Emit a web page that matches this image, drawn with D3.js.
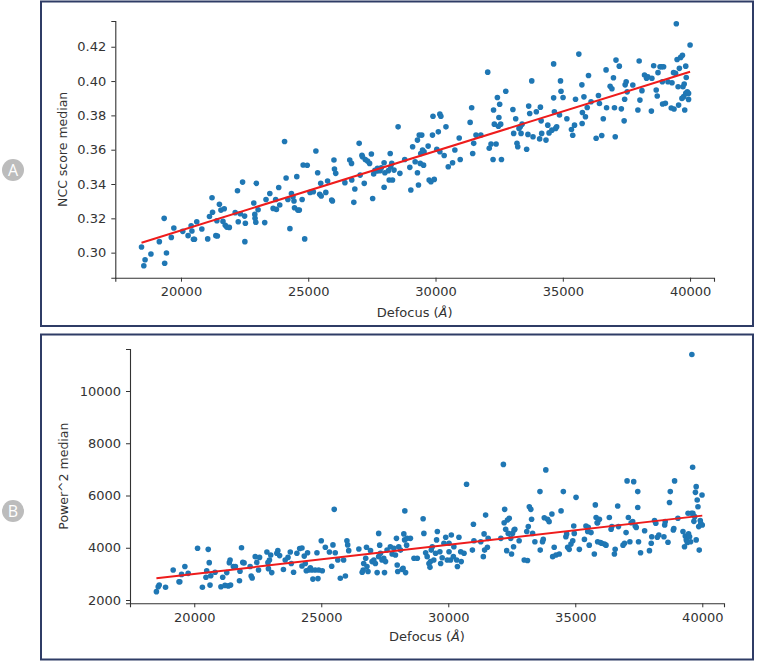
<!DOCTYPE html>
<html>
<head>
<meta charset="utf-8">
<script src="https://cdn.jsdelivr.net/npm/d3@7"></script>
<style>
  html, body { margin: 0; padding: 0; background: #fff; }
  svg { display: block; font-family: "DejaVu Sans", sans-serif; }
</style>
</head>
<body>
<svg id="chart" width="758" height="661"></svg>
<script>
// ---------- Data ----------
const xTicks = [20000, 25000, 30000, 35000, 40000];
const yTicksA = [0.30, 0.32, 0.34, 0.36, 0.38, 0.40, 0.42];
const yTicksB = [2000, 4000, 6000, 8000, 10000];

const defocusA = [
18450,18540,18590,18820,19150,19340,19360,19430,19620,19720,
20070,20280,20400,20430,20490,20530,20620,20820,21050,21120,
21220,21240,21370,21410,21430,21510,21570,21650,21700,21740,
21800,21900,22130,22220,22250,22330,22420,22500,22530,22510,
22860,22900,22910,22940,22960,23030,23290,23340,23490,23620,
23720,23750,23840,23880,24070,24130,24200,24280,24340,24400,
24440,24460,24550,24590,24650,24760,24800,24860,24960,25070,
25200,25300,25370,25450,25490,25510,25690,25760,25920,25950,
26010,26030,26080,26440,26630,26700,26710,26790,26830,27000,
27040,27110,27130,27200,27240,27330,27410,27480,27530,27570,27620,27700,
27720,27820,27870,27980,28010,27980,28150,28180,28220,28240,
28280,28310,28370,28530,28600,28790,28990,29030,29100,29200,
29290,29290,29330,29360,29400,29420,29460,29490,29530,29550,
29710,29750,29820,29880,29900,29950,30050,30110,30170,30210,
30170,30340,30410,30500,30670,30760,30930,30970,31360,31420,
31460,31500,31590,31780,32050,32110,32180,32260,32280,32310,
32380,32430,32470,32490,32520,32590,32560,32760,33040,33070,
33150,33200,33230,33280,33330,33360,33400,33580,33630,33660,
33700,33780,33830,33960,34090,34120,34150,34170,34340,34410,
34460,34570,34640,34670,34640,34720,34760,34870,34910,34930,
35010,35160,35340,35390,35460,35500,35630,35760,35750,35770,
35830,35890,35960,36010,36110,36310,36400,36440,36530,36590,
36700,36720,36860,36930,36990,37030,37060,37090,37220,37300,
37410,37430,37450,37490,37530,37750,37950,38000,38030,38110,
38210,38290,38340,38480,38500,38570,38670,38710,38740,38820,
38880,38920,38960,38910,39030,39130,39260,39290,39350,39370,
39430,39460,39490,39530,39550,39580,39630,39680,39700,39720,
39750,39770,39790,39830,39830,39850,39890,39940,39940,40000
];
const nccMedian = [
.3033,.2924,.2959,.2992,.3064,.3200,.2938,.2998,.3089,.3144,
.3124,.3099,.3157,.3126,.3078,.3078,.3180,.3138,.3080,.3211,
.3320,.3235,.3099,.3186,.3097,.3282,.3248,.3182,.3256,.3159,
.3149,.3147,.3233,.3361,.3180,.3227,.3411,.3213,.3171,.3064,
.3289,.3223,.3200,.3177,.3404,.3250,.3175,.3310,.3345,.3258,
.3310,.3252,.3380,.3278,.3648,.3435,.3310,.3140,.3345,.3326,
.3301,.3262,.3443,.3248,.3248,.3310,.3511,.3080,.3509,.3351,
.3355,.3592,.3466,.3340,.3404,.3330,.3351,.3417,.3307,.3301,
.3540,.3487,.3462,.3408,.3540,.3520,.3423,.3293,.3371,.3637,
.3452,.3567,.3559,.3404,.3543,.3534,.3520,.3575,.3316,.3458,.3480,.3476,
.3491,.3478,.3495,.3524,.3466,.3381,.3478,.3423,.3578,.3501,
.3520,.3423,.3481,.3733,.3462,.3543,.3497,.3365,.3617,.3530,
.3656,.3466,.3394,.3685,.3520,.3578,.3685,.3598,.3510,.3588,
.3621,.3423,.3413,.3685,.3795,.3427,.3603,.3704,.3807,.3795,
.3588,.3566,.3733,.3501,.3524,.3598,.3668,.3543,.3759,.3844,
.3578,.3637,.3685,.3685,.4052,.3608,.3633,.3543,.3831,.3749,
.3633,.3904,.3737,.3788,.3865,.3543,.3749,.3941,.3834,.3695,
.3780,.3637,.3617,.3724,.3733,.3695,.3749,.3603,.3689,.3854,
.3811,.4001,.3675,.3821,.3663,.3848,.3768,.3695,.3656,.3743,
.3698,.3714,.3902,.3821,.4100,.3724,.3733,.3802,.4001,.3941,
.3904,.3780,.3718,.3684,.3743,.3894,.4157,.3753,.3978,.3817,
.3908,.3792,.3846,.4032,.3879,.3667,.3916,.3869,.3683,.3780,
.4065,.3844,.3970,.3955,.4019,.3844,.3675,.4122,.4087,.3838,
.3768,.3894,.3978,.3996,.3937,.3977,.3831,.4117,.3889,.3944,
.4035,.4016,.4025,.3825,.4016,.4089,.3948,.3913,.4049,.4083,
.4083,.3866,.4083,.3996,.3870,.3996,.3843,.3990,.4049,.3837,
.4045,.4334,.4126,.3967,.3860,.4074,.4138,.3899,.4150,.3967,
.3909,.3983,.3831,.4087,.3928,.4021,.3937,.3893,.3928,.4210
];

const defocusB = [
18510,18580,18620,18870,19170,19400,19430,19500,19630,19760,
20130,20320,20460,20490,20550,20590,20620,20650,20820,21050,
21120,21210,21280,21340,21380,21410,21430,21540,21620,21780,
21800,21860,21910,21960,22200,22240,22280,22400,22460,22530,
22570,22860,22900,22920,22960,23010,23050,23250,23290,23360,
23510,23580,23690,23780,23820,23910,24040,24150,24240,24240,
24330,24370,24410,24460,24500,24570,24630,24670,24760,24830,
24870,24900,25000,25040,25160,25320,25410,25460,25510,25550,
25650,25750,25880,25950,26010,26040,26080,26480,26610,26650,
26670,26750,26780,26800,26840,26940,27000,27070,27130,27200,
27260,
27260,27300,27330,27390,27460,27490,27530,27590,27720,27790,
27860,27920,27960,27990,28010,28050,28120,28180,28220,28250,
28290,28280,28320,28360,28380,28510,28650,28780,29010,29040,
29110,29170,29240,29280,29300,29330,29370,29430,29500,29540,
29570,29670,29700,29760,29830,29900,29960,30030,30030,30090,
30120,30200,30220,30330,30360,30420,30490,30510,30620,30720,
30950,30990,31010,31280,31380,31410,31430,31470,31540,31570,
32070,32170,32200,32220,32260,32300,32330,32360,32400,32460,
32490,32530,32570,32590,32620,32790,32990,33090,33120,33150,
33190,33250,33280,33320,33410,33610,33620,33710,33740,33780,
33840,33910,33970,34080,34110,34170,34240,34370,34440,34530,
34630,34660,34700,34760,34830,34900,34940,34960,35030,35160,
35360,35420,35490,35510,35550,35620,35750,35790,35820,35860,
35880,35950,35880,35990,36040,36150,36210,36340,36410,36440,
36540,36570,36670,36700,36880,36940,37000,37040,37090,37150,
37200,37260,37300,37360,37400,37460,37460,37490,37570,37730,
37920,37990,38010,38120,38170,38230,38290,38490,38520,38540,
38650,38710,38740,38860,38880,38910,39040,39240,39300,39330,
39370,39410,39440,39460,39500,39540,39570,39590,39620,39630,
39670,39700,39730,39760,39760,39800,39830,39860,39880,39920,
39940,39990,40000
];
const powerMedian = [
2320,2510,2570,2490,3150,2700,2700,2980,3280,3020,
3980,2490,2870,3120,3940,3430,2570,2930,3060,2510,
2870,2560,3050,2540,3430,3530,2570,3280,3280,2740,
3100,4000,3440,3420,3280,2920,2840,3660,3440,3150,
3630,3840,3430,3200,3530,3720,3050,3790,3890,3700,
3170,3530,3630,3840,3400,3060,3790,3970,3990,3300,
3680,3400,3120,3810,3150,3230,3150,2800,3150,3810,
2820,3150,4270,3120,4020,3840,3290,4110,5470,3810,
3530,2830,3530,2920,4270,4110,3890,3950,3060,3150,
3400,3600,4020,3280,3090,3890,3470,3530,3400,3050,
3660,
4550,4100,3790,3530,3600,3050,3470,3910,4040,3760,
3980,3720,4360,3340,3090,4040,3910,3170,3210,4530,
5410,4300,3050,4100,4360,4360,3600,3600,5110,4550,
3810,3660,3400,3250,3470,3910,4040,3530,3790,4300,
4620,3850,3400,3620,4170,4400,3530,3850,4170,3530,
4490,3660,4040,3530,3280,4400,3850,3470,3790,6430,
3910,4900,4270,4230,3660,4530,3910,5250,4020,4360,
4360,7190,4960,5470,4710,3890,5060,4550,5130,4360,
3760,4550,4040,4680,4710,4270,3530,4620,3510,4810,
5570,5470,5090,4550,4230,6150,3910,4230,4320,5150,
6980,5090,5000,5290,3660,4020,3720,3760,5410,6150,
4420,4530,4020,3940,4140,4270,4830,4550,5930,3940,
4320,4830,4620,4780,4100,4580,3760,5640,5160,4960,
4960,5090,4230,4200,4170,4140,4100,5160,4710,4810,
3760,3940,5600,4810,4100,4170,4580,6560,5160,4230,
4960,5000,6530,4830,4780,6150,5540,4230,3810,4650,
3890,4170,4420,5040,4940,4400,4490,4420,4870,5000,
4210,5730,6150,4680,4740,6560,5130,4620,4040,4450,
4300,4200,5320,4530,4420,4230,5320,11400,7080,5320,
5010,5190,6120,6340,4300,5830,5570,4810,3910,5040,
4940,6020,4870
];

// Fitted regression lines (endpoints)
const fitAx = [18450, 40000];
const fitAy = [0.3058, 0.4054];
const fitBx = [18510, 40000];
const fitBy = [2830, 5230];

// ---------- Drawing ----------
const svg = d3.select("#chart");
svg.append("rect").attr("width", 758).attr("height", 661).attr("fill", "#fff");

const TEXT = "#333";
const BORDER = "#2f3c66";

function panel(cfg) {
  svg.append("rect")
    .attr("x", cfg.frame[0]).attr("y", cfg.frame[1])
    .attr("width", cfg.frame[2]).attr("height", cfg.frame[3])
    .attr("fill", "none").attr("stroke", BORDER).attr("stroke-width", 2);

  svg.append("circle").attr("cx", 13).attr("cy", cfg.badgeY).attr("r", 11).attr("fill", "#bcbcbc");
  svg.append("text").attr("x", 13).attr("y", cfg.badgeY)
    .attr("text-anchor", "middle").attr("dominant-baseline", "central")
    .attr("fill", "#fff").attr("font-size", 16).attr("font-family", "'Open Sans', sans-serif")
    .text(cfg.badge);

  const x = d3.scaleLinear().domain(cfg.xDomain).range([cfg.left, cfg.right]);
  const y = d3.scaleLinear().domain(cfg.yDomain).range([cfg.bottom, cfg.top]);

  const gx = svg.append("g").attr("transform", `translate(0,${cfg.bottom})`)
    .call(d3.axisBottom(x).tickValues(xTicks).tickFormat(d3.format("d")).tickSizeOuter(0).tickSize(4).tickPadding(5));
  const gy = svg.append("g").attr("transform", `translate(${cfg.left},0)`)
    .call(d3.axisLeft(y).tickValues(cfg.yTicks).tickFormat(cfg.yFormat).tickSizeOuter(0).tickSize(4).tickPadding(5));
  [gx, gy].forEach(g => {
    g.selectAll("path.domain").attr("stroke", TEXT).attr("stroke-width", 1.1);
    g.selectAll(".tick line").attr("stroke", TEXT).attr("stroke-width", 1);
    g.selectAll(".tick text").attr("fill", TEXT).attr("font-size", 13)
      .attr("font-family", "'DejaVu Sans', sans-serif");
  });

  svg.append("g").selectAll("circle")
    .data(cfg.xs.map((d, i) => [d, cfg.ys[i]]))
    .join("circle")
    .attr("cx", d => x(d[0])).attr("cy", d => y(d[1])).attr("r", 2.8)
    .attr("fill", "#1f77b4");

  svg.append("path")
    .datum(cfg.fx.map((d, i) => [d, cfg.fy[i]]))
    .attr("d", d3.line().x(d => x(d[0])).y(d => y(d[1])))
    .attr("stroke", "#ee1c1c").attr("stroke-width", 2).attr("fill", "none");

  const xl = svg.append("text").attr("x", (cfg.left + cfg.right) / 2).attr("y", cfg.xLabelY)
    .attr("text-anchor", "middle").attr("dominant-baseline", "central")
    .attr("fill", TEXT).attr("font-size", 13);
  xl.append("tspan").text("Defocus (");
  xl.append("tspan").attr("font-style", "italic").text("Å");
  xl.append("tspan").text(")");

  svg.append("text")
    .attr("transform", `translate(${cfg.yLabelX},${(cfg.top + cfg.bottom) / 2}) rotate(-90)`)
    .attr("text-anchor", "middle").attr("dominant-baseline", "central")
    .attr("fill", TEXT).attr("font-size", 12.5).text(cfg.yLabel);
}

panel({
  frame: [41, 1.5, 712, 324.5], badge: "A", badgeY: 170,
  left: 115.3, right: 714, top: 21, bottom: 277.7,
  xDomain: [17420, 40940], yDomain: [0.2854, 0.435],
  yTicks: yTicksA, yFormat: d3.format(".2f"),
  xs: defocusA, ys: nccMedian, fx: fitAx, fy: fitAy,
  xLabelY: 312, yLabelX: 62, yLabel: "NCC score median"
});

panel({
  frame: [41, 334.5, 712, 325], badge: "B", badgeY: 511,
  left: 130, right: 724, top: 349, bottom: 603.3,
  xDomain: [17470, 40855], yDomain: [1874, 11608],
  yTicks: yTicksB, yFormat: d3.format("d"),
  xs: defocusB, ys: powerMedian, fx: fitBx, fy: fitBy,
  xLabelY: 636, yLabelX: 63, yLabel: "Power^2 median"
});
</script>
</body>
</html>
